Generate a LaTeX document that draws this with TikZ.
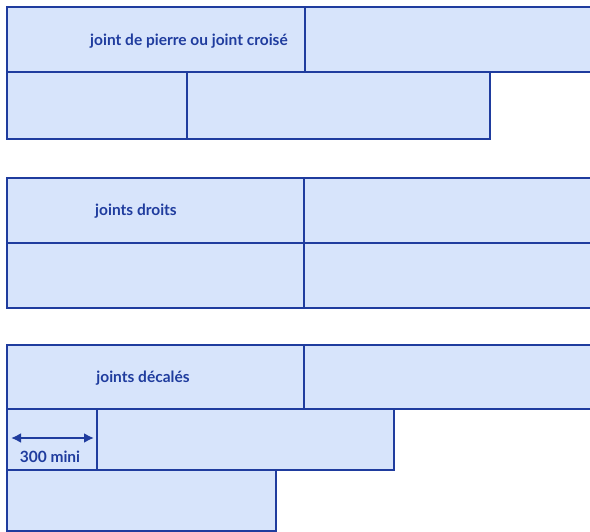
\documentclass[tikz,border=0pt]{standalone}
\usepackage{fontspec}
\setmainfont{Lato}
\usetikzlibrary{arrows.meta}
\definecolor{brickfill}{HTML}{D7E4FB}
\definecolor{jointblue}{HTML}{1F3C9E}
\begin{document}
\begin{tikzpicture}[x=1pt,y=-1pt,
    brick/.style={draw=jointblue,fill=brickfill,line width=1.8pt},
    lbl/.style={text=jointblue,font=\bfseries\fontsize{15.5}{18}\selectfont,inner sep=0pt}]
  \useasboundingbox (0,0) rectangle (590,532);
  \clip (0,0) rectangle (590,532);
  % joint de pierre
  \draw[brick] (7,7) rectangle (305,72);
  \draw[brick] (305,7) rectangle (600,72);
  \draw[brick] (7,72) rectangle (187,139);
  \draw[brick] (187,72) rectangle (490,139);
  \node[lbl] (croise) at (189,41) {joint de pierre ou joint croisé};
  % joints droits
  \draw[brick] (7,178) rectangle (304,243);
  \draw[brick] (304,178) rectangle (600,243);
  \draw[brick] (7,243) rectangle (304,308);
  \draw[brick] (304,243) rectangle (600,308);
  \node[lbl] (droits) at (136,211) {joints droits};
  % joints decales
  \draw[brick] (7,345) rectangle (304,409);
  \draw[brick] (304,345) rectangle (600,409);
  \draw[brick] (7,409) rectangle (97,470);
  \draw[brick] (97,409) rectangle (394,470);
  \draw[brick] (7,470) rectangle (276,531);
  \node[lbl] (decales) at (143,378) {joints décalés};
  \coordinate (mini1) at (11,438);
  \coordinate (mini2) at (94,438);
  \draw[jointblue,line width=2pt,{Latex[length=10pt,width=10pt]}-{Latex[length=10pt,width=10pt]}] (mini1) -- (mini2);
  \node[lbl] (mini) at (50,457) {300 mini};
\end{tikzpicture}
\end{document}
